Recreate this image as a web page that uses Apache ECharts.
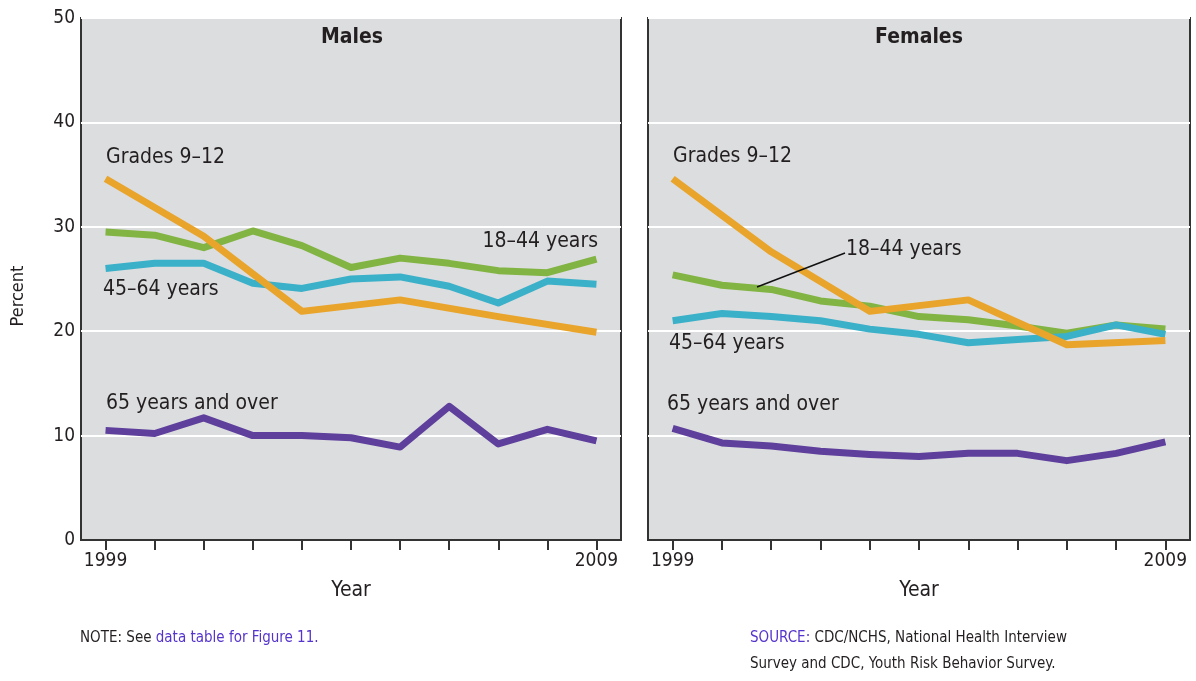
<!DOCTYPE html>
<html>
<head>
<meta charset="utf-8">
<script src="https://cdn.jsdelivr.net/npm/echarts@6/dist/echarts.min.js"></script>
<style>
  html, body { margin: 0; padding: 0; background: #fff; }
  #chart { width: 1196px; height: 681px; }
</style>
</head>
<body>
<div id="chart"></div>
<script>
// data
const years = ['1999', '2000', '2001', '2002', '2003', '2004', '2005', '2006', '2007', '2008', '2009'];
const yTicks = [0, 10, 20, 30, 40, 50];

// Grades 9-12 only surveyed every other year
const maleGrades = [34.6, null, 29.1, null, 21.9, null, 23.0, null, 21.4, null, 19.9];
const male1844 = [29.5, 29.2, 28.0, 29.6, 28.2, 26.1, 27.0, 26.5, 25.8, 25.6, 26.9];
const male4564 = [26.0, 26.5, 26.5, 24.6, 24.1, 25.0, 25.2, 24.3, 22.7, 24.8, 24.5];
const male65 = [10.5, 10.2, 11.7, 10.0, 10.0, 9.8, 8.9, 12.8, 9.2, 10.6, 9.5];

const femaleGrades = [34.6, null, 27.6, null, 21.9, null, 23.0, null, 18.7, null, 19.1];
const female1844 = [25.4, 24.4, 24.0, 22.9, 22.4, 21.4, 21.1, 20.5, 19.8, 20.6, 20.2];
const female4564 = [21.0, 21.7, 21.4, 21.0, 20.2, 19.7, 18.9, 19.2, 19.5, 20.6, 19.7];
const female65 = [10.7, 9.3, 9.0, 8.5, 8.2, 8.0, 8.3, 8.3, 7.6, 8.3, 9.4];

const colors = {
  grades: '#E9A42C',
  a1844: '#82B443',
  a4564: '#3BB0C9',
  a65: '#5E3F9C'
};
const font = "'Liberation Sans Narrow', 'DejaVu Sans Condensed', 'Noto Sans', sans-serif";
const textColor = '#231f20';
const linkColor = '#5533cc';

const chart = echarts.init(document.getElementById('chart'));

const makeX = (gridIndex) => ({
  type: 'category',
  gridIndex,
  data: years,
  boundaryGap: true,
  name: 'Year',
  nameLocation: 'middle',
  nameGap: 40,
  nameTextStyle: { color: textColor, fontSize: 21, fontFamily: font },
  axisLine: { show: true, lineStyle: { color: '#333', width: 2 } },
  axisTick: { show: true, inside: false, alignWithLabel: true, interval: 0, length: 10, lineStyle: { color: '#333', width: 2 } },
  axisLabel: {
    interval: 0,
    margin: 12,
    color: textColor,
    fontSize: 19,
    fontFamily: font,
    formatter: (v) => (v === years[0] || v === years[years.length - 1]) ? v : ''
  },
  splitLine: { show: false }
});

const makeY = (gridIndex, showLabels) => ({
  type: 'value',
  gridIndex,
  min: yTicks[0],
  max: yTicks[yTicks.length - 1],
  interval: 10,
  axisLine: { show: false },
  axisTick: { show: false },
  axisLabel: {
    show: showLabels,
    margin: 6,
    color: textColor,
    fontSize: 19,
    fontFamily: font
  },
  splitLine: { lineStyle: { color: '#ffffff', width: 2 } }
});

const makeLine = (name, data, color, idx) => ({
  name,
  type: 'line',
  xAxisIndex: idx,
  yAxisIndex: idx,
  data,
  connectNulls: true,
  symbol: 'none',
  lineStyle: { color, width: 7, join: 'round', cap: 'butt' },
  itemStyle: { color },
  silent: true
});

const txt = (x, y, text, opts = {}) => ({
  type: 'text',
  x, y,
  z: 100,
  style: Object.assign({
    text,
    fill: textColor,
    fontSize: 21,
    fontFamily: font,
    textAlign: 'left',
    textVerticalAlign: 'middle'
  }, opts)
});

const option = {
  backgroundColor: '#ffffff',
  animation: false,
  grid: [
    { left: 81, top: 18, width: 540, height: 522, show: true, backgroundColor: '#dcdddf', borderColor: '#333', borderWidth: 2 },
    { left: 648, top: 18, width: 542, height: 522, show: true, backgroundColor: '#dcdddf', borderColor: '#333', borderWidth: 2 }
  ],
  xAxis: [makeX(0), makeX(1)],
  yAxis: [makeY(0, true), makeY(1, false)],
  series: [
    makeLine('18–44 years', male1844, colors.a1844, 0),
    makeLine('45–64 years', male4564, colors.a4564, 0),
    makeLine('Grades 9–12', maleGrades, colors.grades, 0),
    makeLine('65 years and over', male65, colors.a65, 0),
    makeLine('18–44 years', female1844, colors.a1844, 1),
    makeLine('45–64 years', female4564, colors.a4564, 1),
    makeLine('Grades 9–12', femaleGrades, colors.grades, 1),
    makeLine('65 years and over', female65, colors.a65, 1)
  ],
  graphic: [
    // panel titles
    txt(352, 38, 'Males', { fontWeight: 'bold', textAlign: 'center' }),
    txt(919, 38, 'Females', { fontWeight: 'bold', textAlign: 'center' }),
    // y axis name
    {
      type: 'text', x: 18, y: 296, rotation: Math.PI / 2,
      style: { text: 'Percent', fill: textColor, fontSize: 18, fontFamily: font, textAlign: 'center', textVerticalAlign: 'middle' }
    },
    // males labels
    txt(106, 158, 'Grades 9–12'),
    txt(598, 242, '18–44 years', { textAlign: 'right' }),
    txt(103, 290, '45–64 years'),
    txt(106, 404, '65 years and over'),
    // females labels
    txt(673, 157, 'Grades 9–12'),
    txt(846, 250, '18–44 years'),
    {
      type: 'line', z: 100,
      shape: { x1: 757, y1: 287, x2: 845, y2: 253 },
      style: { stroke: '#111', lineWidth: 1.5 }
    },
    txt(669, 344, '45–64 years'),
    txt(667, 405, '65 years and over'),
    // footer
    {
      type: 'text', x: 80, y: 638,
      style: {
        text: '{a|NOTE: See }{b|data table for Figure 11.}',
        textVerticalAlign: 'middle',
        rich: {
          a: { fill: textColor, fontSize: 15, fontFamily: font },
          b: { fill: linkColor, fontSize: 15, fontFamily: font }
        }
      }
    },
    {
      type: 'text', x: 750, y: 638,
      style: {
        text: '{b|SOURCE: }{a|CDC/NCHS, National Health Interview}',
        textVerticalAlign: 'middle',
        rich: {
          a: { fill: textColor, fontSize: 15, fontFamily: font },
          b: { fill: linkColor, fontSize: 15, fontFamily: font }
        }
      }
    },
    txt(750, 664, 'Survey and CDC, Youth Risk Behavior Survey.', { fontSize: 15 })
  ]
};

chart.setOption(option);
window.addEventListener('resize', () => chart.resize());
</script>
</body>
</html>
